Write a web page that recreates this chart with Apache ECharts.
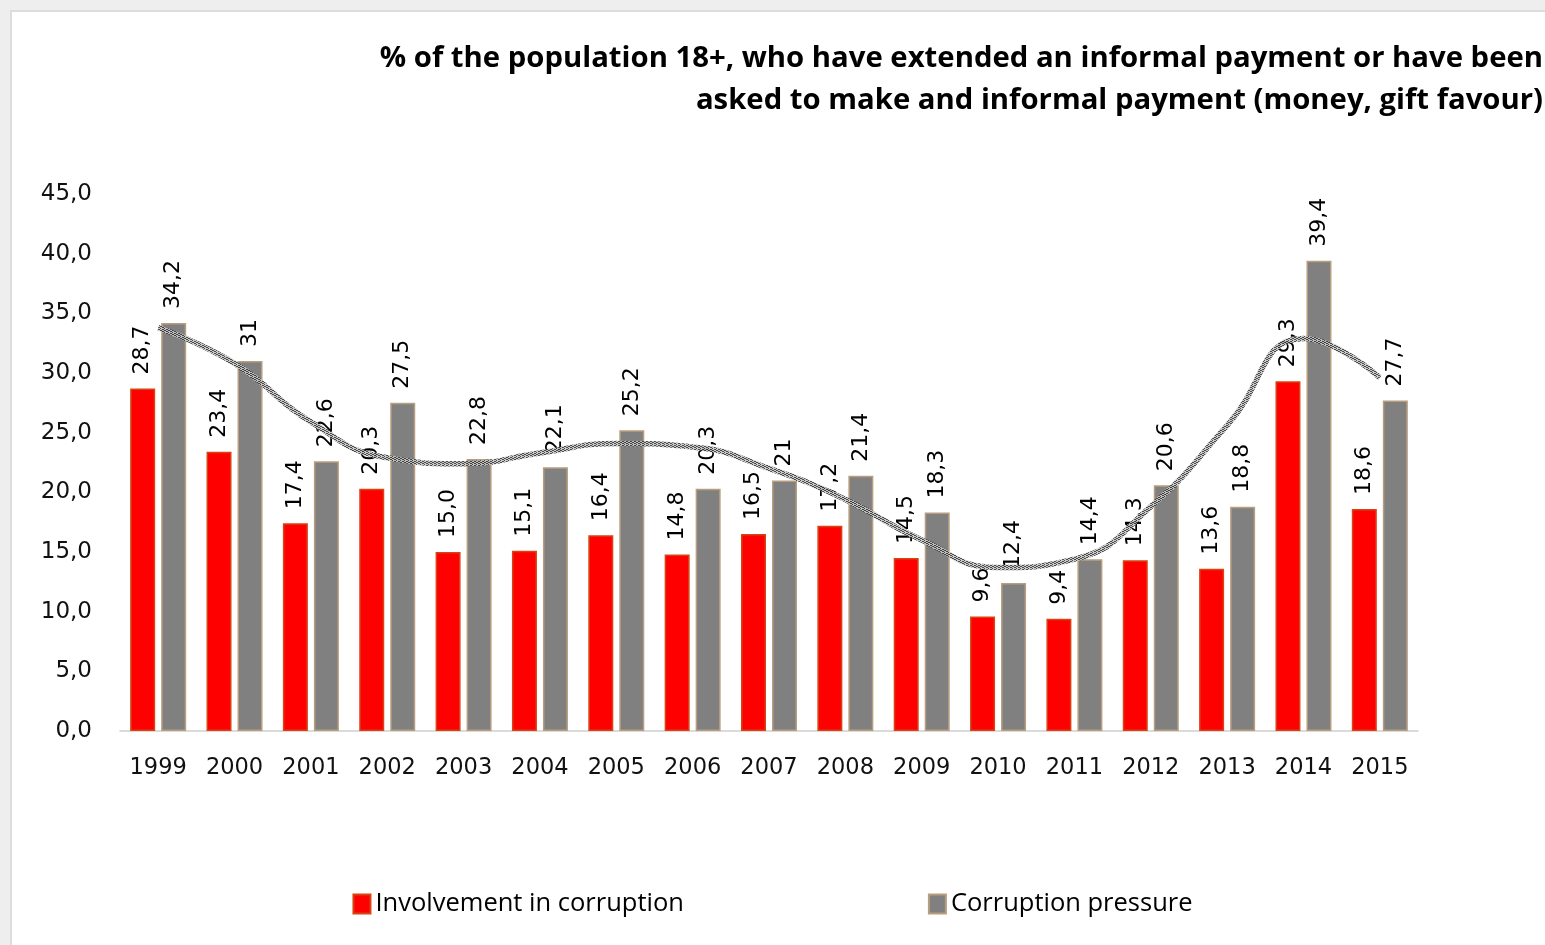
<!DOCTYPE html>
<html><head><meta charset="utf-8">
<script src="https://cdn.jsdelivr.net/npm/echarts@6/dist/echarts.min.js"></script>
<style>html,body{margin:0;padding:0;background:#fff}#c{width:1545px;height:945px}</style>
</head><body><div id="c"></div>
<script>
const years = ['1999','2000','2001','2002','2003','2004','2005','2006','2007','2008','2009','2010','2011','2012','2013','2014','2015'];
const involvement = [28.7,23.4,17.4,20.3,15.0,15.1,16.4,14.8,16.5,17.2,14.5,9.6,9.4,14.3,13.6,29.3,18.6];
const pressure = [34.2,31,22.6,27.5,22.8,22.1,25.2,20.3,21,21.4,18.3,12.4,14.4,20.6,18.8,39.4,27.7];
// polynomial trend line of "Corruption pressure", values at each year
const pressureTrend = [33.8,30.8,25.9,22.9,22.4,23.3,24.1,23.8,22.0,19.4,16.0,13.7,14.4,18.8,25.6,32.9,29.6];
const yTicks = {min:0,max:45,interval:5};
const titleLines = ['% of the population 18+, who have extended an informal payment or have been','asked to make and informal payment (money, gift favour)'];

// textured stroke pattern for the trend line
const pc = document.createElement('canvas'); pc.width = 4; pc.height = 4;
const px = pc.getContext('2d');
px.fillStyle = '#c4c4c4'; px.fillRect(0,0,4,4);
px.fillStyle = '#3a3a3a';
[[0,0],[2,1],[1,2],[3,3],[0,2],[2,3],[3,1]].forEach(p=>px.fillRect(p[0],p[1],1,1));

const fmt = v => String(v).replace('.', ',');
const chart = echarts.init(document.getElementById('c'));
chart.setOption({
  backgroundColor:'#ffffff',
  animation:false,
  graphic:[
    {type:'rect',shape:{x:0,y:0,width:1545,height:10},style:{fill:'#eeeeee'},silent:true},
    {type:'rect',shape:{x:0,y:0,width:10,height:945},style:{fill:'#eeeeee'},silent:true},
    {type:'rect',shape:{x:10,y:10,width:1535,height:2},style:{fill:'#dddddd'},silent:true},
    {type:'rect',shape:{x:10,y:10,width:2,height:935},style:{fill:'#dddddd'},silent:true},
    {type:'text',x:1543,y:38,style:{text:titleLines.join('\n'),align:'right',verticalAlign:'top',
      font:'bold 29.3px "Open Sans", sans-serif',lineHeight:42,fill:'#000'}}
  ],
  grid:{left:120,right:127,top:194,bottom:214,containLabel:false},
  legend:{
    left:'center', top:886, icon:'rect', itemWidth:17, itemHeight:19, itemGap:244,
    textStyle:{fontFamily:'Open Sans',fontSize:25.5,color:'#000'},
    data:['Involvement in corruption','Corruption pressure']
  },
  xAxis:{
    type:'category', data:years,
    axisLine:{lineStyle:{color:'#d0d0d0',width:1.5}},
    axisTick:{show:false},
    axisLabel:{fontFamily:'DejaVu Sans',fontSize:22.5,color:'#111',margin:26}
  },
  yAxis:{
    type:'value', min:yTicks.min, max:yTicks.max, interval:yTicks.interval,
    axisLine:{show:false}, axisTick:{show:false}, splitLine:{show:false},
    axisLabel:{fontFamily:'DejaVu Sans',fontSize:23,color:'#111',margin:28,
      formatter:v=>v.toFixed(1).replace('.',',')}
  },
  series:[
    {name:'Involvement in corruption',type:'bar',data:involvement,barWidth:25,barGap:'24%',
     itemStyle:{color:'#ff0000',borderColor:'#d84315',borderWidth:1.5},
     label:{show:true,position:'top',rotate:90,align:'left',verticalAlign:'middle',distance:14,
       fontFamily:'DejaVu Sans',fontSize:22,color:'#000',formatter:p=>p.value.toFixed(1).replace('.',',')}},
    {name:'Corruption pressure',type:'bar',data:pressure,barWidth:25,
     itemStyle:{color:'#808080',borderColor:'#b89e7e',borderWidth:1.5},
     label:{show:true,position:'top',rotate:90,align:'left',verticalAlign:'middle',distance:14,
       fontFamily:'DejaVu Sans',fontSize:22,color:'#000',formatter:p=>fmt(p.value)}},
    {name:'trend',type:'line',data:pressureTrend,smooth:0.5,symbol:'none',z:5,
     lineStyle:{width:5.5,color:{image:pc,repeat:'repeat'},opacity:0.9}}
  ]
});
</script></body></html>
